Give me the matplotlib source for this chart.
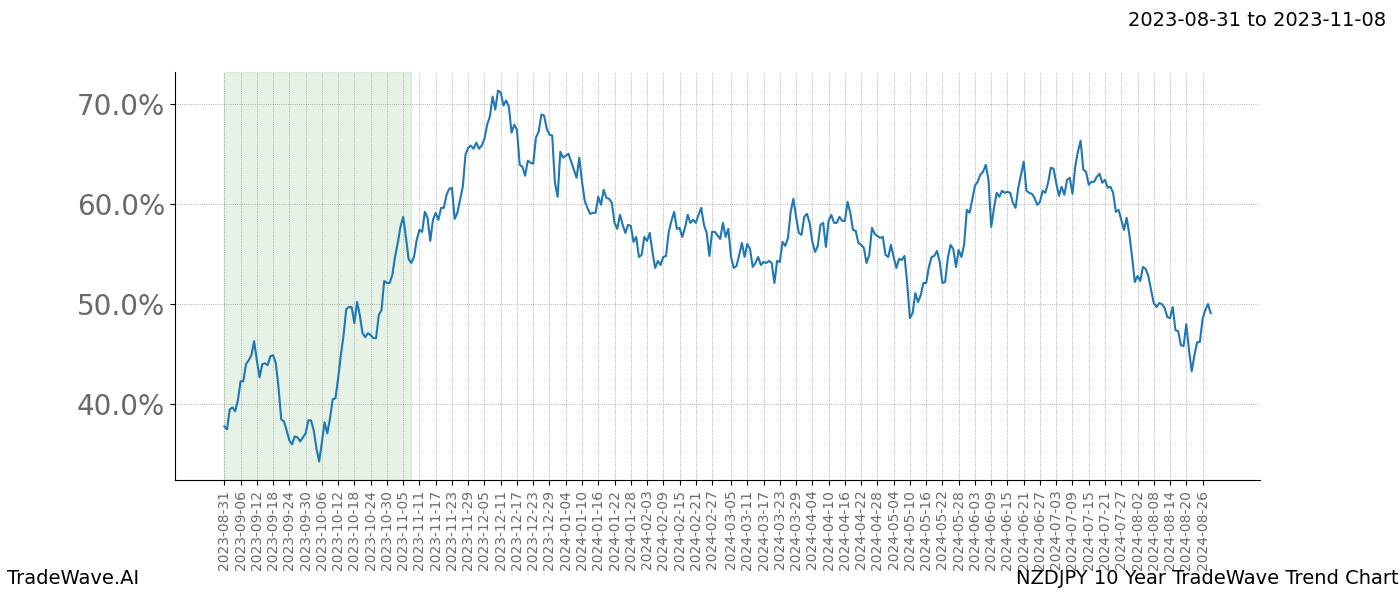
import pandas as pd
import matplotlib
matplotlib.use("Agg")
import matplotlib.pyplot as plt
import matplotlib.dates as mdates
from matplotlib.ticker import FuncFormatter, MultipleLocator

# daily trend values (percent)
start_date = "2023-08-31"
skipped_day = "2024-02-29"  # the source series has no leap day
values = [
    # 2023-08-31 .. mid November
    37.8, 37.5, 39.5, 39.7, 39.3, 40.4, 42.3, 42.3, 44.0, 44.4,
    44.9, 46.3, 44.4, 42.7, 44.0, 44.1, 43.9, 44.8, 44.9, 44.1,
    41.7, 38.5, 38.3, 37.4, 36.4, 36.0, 36.8, 36.7, 36.3, 36.7,
    37.1, 38.4, 38.4, 37.4, 35.6, 34.3, 36.2, 38.2, 37.1, 38.6,
    40.5, 40.6, 42.6, 44.9, 46.9, 49.5, 49.7, 49.7, 48.1, 50.2,
    48.9, 47.1, 46.7, 47.1, 46.9, 46.6, 46.6, 48.9, 49.4, 52.3,
    52.1, 52.1, 52.9, 54.7, 56.1, 57.7, 58.7, 56.7, 54.5, 54.1,
    54.7, 56.4, 57.4,
    # to end of January
    57.2, 59.2, 58.6, 56.3, 58.4, 59.1, 58.4, 59.6, 59.6, 60.9,
    61.5, 61.6, 58.5, 59.1, 60.4, 61.7, 64.9, 65.6, 65.8, 65.5,
    66.1, 65.5, 65.8, 66.5, 67.9, 68.7, 70.7, 69.4, 71.3, 71.1,
    69.8, 70.3, 69.7, 67.1, 67.9, 67.4, 63.9, 63.7, 62.8, 64.3,
    64.1, 64.0, 66.6, 67.2, 68.9, 68.8, 67.5, 66.9, 66.8, 62.1,
    60.7, 65.2, 64.6, 64.8, 65.0, 64.2, 63.4, 62.6, 64.6, 62.2,
    60.3, 59.6, 59.0, 59.1, 59.1, 60.7, 59.9, 61.4, 60.6, 60.5,
    60.1, 58.1,
    # to mid April
    57.5, 58.9, 57.9, 57.1, 57.9, 57.8, 56.2, 56.7, 54.7, 54.9,
    56.7, 56.3, 57.1, 55.2, 53.6, 54.3, 53.9, 54.7, 54.8, 57.2,
    58.3, 59.2, 57.5, 57.6, 56.7, 57.6, 58.9, 58.1, 58.4, 58.1,
    58.9, 59.6, 57.9, 57.1, 54.8, 57.2, 57.2, 56.5, 58.1, 56.7,
    57.5, 54.7, 53.6, 53.8, 54.9, 56.1, 54.7, 56.0, 55.5, 53.7,
    54.1, 54.7, 53.9, 54.2, 54.1, 54.3, 54.1, 52.1, 54.3, 54.2,
    56.2, 55.8, 56.6, 59.2, 60.5, 58.7, 57.1, 56.9, 58.7, 59.0,
    58.1, 56.2, 55.2, 55.8, 57.9, 58.1,
    # to early July
    55.7, 58.3, 58.9, 58.1, 58.1, 58.7, 58.3, 58.3, 60.2, 59.1,
    57.4, 57.3, 56.1, 55.9, 55.6, 54.1, 54.9, 57.6, 57.0, 56.8,
    56.6, 56.7, 54.9, 54.7, 55.9, 54.7, 53.6, 54.5, 54.4, 54.8,
    52.1, 48.6, 49.1, 51.1, 50.2, 50.9, 52.1, 52.1, 53.7, 54.7,
    54.8, 55.3, 54.2, 52.1, 52.2, 54.6, 55.9, 55.5, 53.7, 55.4,
    54.7, 55.9, 59.4, 59.1, 60.4, 61.8, 62.2, 62.9, 63.2, 63.9,
    62.4, 57.7, 59.5, 61.1, 60.7, 61.3, 61.1, 61.2, 61.1, 60.1,
    59.6, 61.6, 62.9, 64.2, 61.3, 61.1, 61.0, 60.6,
    # to end of August
    59.9, 60.2, 61.3, 61.1, 62.1, 63.6, 63.5, 62.1, 60.8, 61.7,
    60.9, 62.4, 62.6, 61.0, 63.7, 65.2, 66.3, 63.4, 63.2, 61.9,
    62.2, 62.2, 62.7, 63.0, 62.1, 62.4, 61.6, 61.7, 61.1, 59.2,
    59.4, 58.4, 57.4, 58.6, 56.9, 54.7, 52.2, 52.8, 52.3, 53.7,
    53.5, 52.8, 51.4, 50.1, 49.7, 50.1, 50.0, 49.6, 48.7, 48.6,
    49.7, 47.4, 47.3, 45.9, 45.8, 48.0, 45.4, 43.3, 44.9, 46.2,
    46.2, 48.5, 49.4, 50.0, 49.1,
]
highlight_start = "2023-08-31"
highlight_end = "2023-11-08"
title_text = "2023-08-31 to 2023-11-08"

all_days = pd.date_range(start_date, periods=len(values) + 1, freq="D")
dates = all_days[all_days != pd.Timestamp(skipped_day)][:len(values)]

fig = plt.figure(figsize=(14, 6), dpi=100)
ax = fig.add_subplot(111)
fig.subplots_adjust(left=0.125, right=0.9, top=0.88, bottom=0.2)

ax.axvspan(pd.Timestamp(highlight_start), pd.Timestamp(highlight_end),
           color="green", alpha=0.1)
ax.plot(dates, values, color="#1f77b4", linewidth=1.5)

# tick on every 6th data point
ax.set_xticks(dates[::6])
ax.xaxis.set_major_formatter(mdates.DateFormatter("%Y-%m-%d"))
ax.tick_params(axis="x", labelrotation=90, labelsize=10, labelcolor="dimgray")
ax.yaxis.set_major_locator(MultipleLocator(10))
ax.yaxis.set_major_formatter(FuncFormatter(lambda v, p: f"{v:.1f}%"))
ax.tick_params(axis="y", labelsize=20, labelcolor="dimgray")

ax.grid(True, linestyle=":", linewidth=0.6, color="gray", alpha=0.8)
ax.spines["top"].set_visible(False)
ax.spines["right"].set_visible(False)

fig.text(0.99, 0.965, title_text, ha="right", va="center", fontsize=14)
fig.text(0.005, 0.02, "TradeWave.AI", ha="left", va="bottom", fontsize=14)
fig.text(0.999, 0.02, "NZDJPY 10 Year TradeWave Trend Chart", ha="right",
         va="bottom", fontsize=14)

fig.savefig("out.png")
